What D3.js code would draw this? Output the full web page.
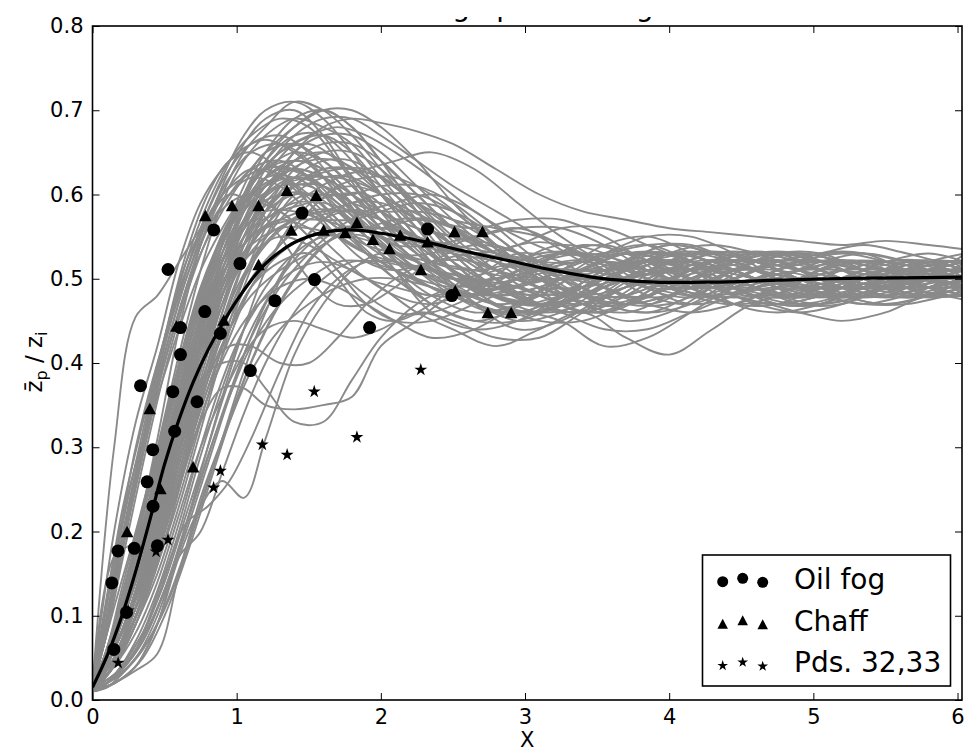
<!DOCTYPE html>
<html><head><meta charset="utf-8">
<script src="https://cdn.jsdelivr.net/npm/d3@7"></script>
<style>body{margin:0;background:#fff}svg{display:block}</style>
</head><body>
<svg id="c" width="964" height="751"></svg>
<script>
// ---------------- DATA ----------------
const titleText = "Average plume height";
const xLabel = "X";
// ensemble runs, set A (sampled at gridA)
const gridA = [0,0.15,0.3,0.45,0.6,0.75,0.9,1.05,1.2,1.4,1.6,1.8,2.0,2.25,2.5,2.8,3.1,3.4,3.7,4.0,4.3,4.6,4.9,5.2,5.5,5.8,6.05];
const ensembleA = [
 [0.016,0.30,0.455,0.48,0.52,0.56,0.60,0.62,0.63,0.61,0.58,0.55,0.52,0.50,0.49,0.50,0.52,0.53,0.52,0.50,0.49,0.50,0.52,0.52,0.51,0.49,0.50],
 [0.015,0.16,0.30,0.40,0.48,0.56,0.62,0.67,0.70,0.71,0.69,0.65,0.60,0.55,0.51,0.49,0.50,0.52,0.53,0.51,0.49,0.48,0.50,0.52,0.51,0.50,0.49],
 [0.012,0.13,0.26,0.37,0.46,0.54,0.60,0.65,0.68,0.71,0.70,0.67,0.63,0.58,0.53,0.49,0.47,0.49,0.52,0.53,0.52,0.50,0.49,0.50,0.51,0.52,0.51],
 [0.02,0.20,0.33,0.42,0.52,0.59,0.63,0.655,0.665,0.65,0.62,0.58,0.54,0.50,0.48,0.49,0.51,0.52,0.51,0.49,0.48,0.49,0.51,0.52,0.51,0.50,0.50],
 [0.015,0.11,0.20,0.30,0.41,0.51,0.59,0.64,0.67,0.69,0.68,0.66,0.62,0.57,0.52,0.48,0.47,0.49,0.52,0.54,0.53,0.51,0.49,0.49,0.50,0.52,0.52],
 [0.018,0.17,0.28,0.36,0.44,0.51,0.56,0.60,0.63,0.64,0.63,0.60,0.57,0.53,0.50,0.48,0.49,0.51,0.53,0.52,0.50,0.48,0.48,0.50,0.52,0.52,0.51],
 [0.015,0.17,0.19,0.28,0.40,0.49,0.55,0.59,0.61,0.62,0.61,0.58,0.55,0.52,0.50,0.50,0.51,0.51,0.50,0.49,0.49,0.50,0.51,0.51,0.50,0.49,0.48],
 [0.01,0.09,0.19,0.31,0.44,0.54,0.61,0.66,0.69,0.70,0.67,0.62,0.58,0.56,0.55,0.53,0.50,0.48,0.47,0.48,0.50,0.52,0.53,0.52,0.50,0.49,0.50],
 [0.015,0.14,0.27,0.37,0.46,0.53,0.58,0.62,0.65,0.68,0.70,0.70,0.68,0.64,0.59,0.54,0.50,0.48,0.48,0.50,0.52,0.53,0.52,0.50,0.49,0.49,0.50],
 [0.015,0.07,0.15,0.25,0.36,0.46,0.53,0.58,0.61,0.63,0.62,0.60,0.57,0.54,0.51,0.49,0.48,0.49,0.51,0.53,0.53,0.51,0.49,0.48,0.49,0.51,0.52],
 [0.012,0.06,0.13,0.22,0.33,0.43,0.51,0.57,0.61,0.64,0.65,0.63,0.60,0.56,0.52,0.48,0.46,0.47,0.50,0.53,0.54,0.53,0.51,0.49,0.48,0.49,0.50],
 [0.02,0.08,0.16,0.27,0.38,0.47,0.54,0.59,0.62,0.62,0.60,0.57,0.55,0.54,0.53,0.52,0.50,0.48,0.48,0.50,0.52,0.52,0.51,0.49,0.49,0.50,0.51],
 [0.015,0.06,0.12,0.20,0.30,0.40,0.48,0.54,0.58,0.61,0.61,0.59,0.56,0.52,0.49,0.47,0.48,0.51,0.53,0.52,0.50,0.48,0.49,0.51,0.52,0.51,0.50],
 [0.01,0.05,0.11,0.19,0.29,0.39,0.48,0.55,0.60,0.64,0.66,0.66,0.64,0.60,0.56,0.52,0.49,0.48,0.49,0.51,0.52,0.51,0.50,0.50,0.51,0.50,0.49],
 [0.015,0.07,0.14,0.23,0.33,0.42,0.49,0.54,0.57,0.59,0.59,0.58,0.57,0.55,0.52,0.49,0.47,0.48,0.51,0.53,0.52,0.50,0.48,0.48,0.50,0.52,0.51],
 [0.02,0.06,0.12,0.21,0.31,0.41,0.50,0.57,0.62,0.66,0.67,0.65,0.61,0.56,0.51,0.47,0.46,0.48,0.51,0.53,0.52,0.50,0.49,0.50,0.52,0.52,0.50],
 [0.015,0.05,0.10,0.17,0.26,0.36,0.45,0.52,0.57,0.61,0.63,0.63,0.61,0.58,0.54,0.50,0.47,0.46,0.48,0.51,0.53,0.53,0.51,0.49,0.49,0.50,0.51],
 [0.012,0.06,0.13,0.23,0.35,0.45,0.52,0.56,0.58,0.58,0.57,0.56,0.56,0.57,0.56,0.53,0.50,0.48,0.47,0.49,0.51,0.52,0.51,0.49,0.48,0.49,0.50],
 [0.015,0.05,0.11,0.19,0.28,0.37,0.46,0.54,0.60,0.65,0.67,0.67,0.65,0.61,0.57,0.53,0.51,0.51,0.52,0.52,0.50,0.48,0.48,0.50,0.52,0.53,0.52],
 [0.02,0.07,0.14,0.24,0.34,0.44,0.52,0.58,0.62,0.64,0.63,0.60,0.56,0.52,0.50,0.50,0.52,0.54,0.53,0.50,0.48,0.48,0.50,0.52,0.52,0.51,0.50],
 [0.01,0.04,0.09,0.16,0.25,0.35,0.44,0.52,0.58,0.63,0.65,0.65,0.63,0.59,0.55,0.51,0.48,0.47,0.49,0.52,0.53,0.52,0.50,0.49,0.49,0.51,0.52],
 [0.015,0.06,0.12,0.21,0.31,0.41,0.49,0.55,0.58,0.60,0.60,0.60,0.61,0.61,0.59,0.55,0.51,0.48,0.47,0.48,0.50,0.52,0.53,0.52,0.50,0.49,0.49],
 [0.015,0.05,0.10,0.18,0.28,0.38,0.47,0.54,0.59,0.62,0.62,0.60,0.58,0.56,0.55,0.54,0.52,0.49,0.47,0.47,0.49,0.51,0.52,0.52,0.51,0.49,0.48],
 [0.02,0.08,0.17,0.28,0.39,0.48,0.55,0.60,0.63,0.65,0.64,0.61,0.57,0.53,0.49,0.46,0.46,0.49,0.52,0.54,0.53,0.51,0.49,0.48,0.49,0.51,0.52],
 [0.012,0.05,0.11,0.20,0.31,0.42,0.51,0.58,0.63,0.67,0.69,0.69,0.67,0.64,0.61,0.58,0.55,0.52,0.50,0.49,0.49,0.50,0.51,0.52,0.52,0.51,0.50],
 [0.015,0.06,0.13,0.22,0.32,0.41,0.48,0.53,0.56,0.57,0.57,0.57,0.58,0.59,0.58,0.55,0.51,0.47,0.45,0.46,0.49,0.52,0.53,0.52,0.50,0.48,0.48],
 [0.015,0.04,0.09,0.16,0.24,0.33,0.42,0.50,0.56,0.61,0.63,0.63,0.62,0.59,0.56,0.53,0.51,0.50,0.50,0.51,0.52,0.52,0.51,0.50,0.49,0.50,0.51],
 [0.02,0.07,0.15,0.25,0.36,0.46,0.54,0.60,0.64,0.67,0.67,0.64,0.60,0.55,0.51,0.48,0.47,0.48,0.50,0.51,0.51,0.50,0.49,0.49,0.50,0.51,0.51],
 [0.01,0.05,0.10,0.18,0.27,0.36,0.44,0.50,0.54,0.57,0.58,0.58,0.57,0.55,0.53,0.51,0.50,0.50,0.51,0.52,0.51,0.49,0.47,0.47,0.49,0.51,0.52],
 [0.015,0.05,0.11,0.19,0.29,0.39,0.48,0.55,0.60,0.65,0.68,0.69,0.685,0.675,0.66,0.63,0.60,0.58,0.57,0.56,0.555,0.55,0.545,0.54,0.545,0.54,0.535],
 [0.015,0.07,0.15,0.26,0.37,0.47,0.55,0.60,0.63,0.63,0.61,0.58,0.54,0.51,0.50,0.51,0.53,0.53,0.51,0.49,0.48,0.49,0.51,0.51,0.50,0.49,0.50],
 [0.012,0.05,0.12,0.21,0.32,0.43,0.52,0.59,0.64,0.68,0.70,0.68,0.64,0.58,0.53,0.49,0.48,0.49,0.51,0.52,0.51,0.49,0.48,0.49,0.51,0.52,0.51],
 [0.02,0.06,0.13,0.22,0.32,0.42,0.50,0.56,0.60,0.62,0.61,0.59,0.58,0.58,0.57,0.54,0.50,0.47,0.46,0.48,0.51,0.53,0.53,0.51,0.49,0.48,0.49],
 [0.015,0.05,0.11,0.19,0.29,0.40,0.49,0.56,0.61,0.63,0.62,0.59,0.55,0.51,0.48,0.46,0.48,0.51,0.53,0.53,0.51,0.49,0.48,0.49,0.51,0.52,0.51],
 [0.01,0.04,0.10,0.18,0.27,0.37,0.46,0.53,0.58,0.62,0.64,0.64,0.62,0.59,0.57,0.56,0.55,0.53,0.50,0.48,0.48,0.50,0.52,0.53,0.52,0.50,0.49],
 [0.015,0.06,0.13,0.23,0.34,0.45,0.54,0.61,0.65,0.66,0.64,0.61,0.58,0.55,0.54,0.53,0.52,0.50,0.48,0.48,0.50,0.52,0.52,0.50,0.48,0.48,0.50],
 [0.018,0.07,0.14,0.22,0.31,0.40,0.47,0.52,0.55,0.57,0.58,0.59,0.60,0.60,0.58,0.54,0.50,0.47,0.47,0.49,0.52,0.53,0.52,0.50,0.48,0.49,0.50],
 [0.012,0.04,0.09,0.15,0.23,0.32,0.41,0.49,0.55,0.60,0.62,0.62,0.60,0.57,0.54,0.52,0.51,0.51,0.51,0.50,0.49,0.49,0.50,0.51,0.52,0.51,0.50],
 [0.015,0.05,0.12,0.22,0.33,0.44,0.53,0.60,0.65,0.69,0.70,0.68,0.64,0.60,0.56,0.53,0.52,0.52,0.53,0.53,0.51,0.49,0.48,0.49,0.50,0.52,0.53],
 [0.015,0.03,0.06,0.11,0.18,0.27,0.36,0.44,0.51,0.57,0.60,0.61,0.60,0.57,0.54,0.51,0.49,0.49,0.50,0.51,0.52,0.51,0.50,0.49,0.49,0.50,0.50],
 [0.012,0.025,0.05,0.09,0.15,0.23,0.31,0.39,0.46,0.53,0.57,0.59,0.59,0.57,0.54,0.50,0.47,0.46,0.48,0.51,0.53,0.52,0.50,0.48,0.48,0.50,0.51],
 [0.015,0.025,0.05,0.10,0.18,0.26,0.34,0.41,0.47,0.53,0.57,0.58,0.57,0.54,0.51,0.48,0.47,0.48,0.51,0.53,0.52,0.50,0.48,0.48,0.49,0.51,0.51],
 [0.01,0.02,0.035,0.055,0.15,0.24,0.31,0.38,0.44,0.50,0.54,0.56,0.56,0.55,0.53,0.50,0.48,0.46,0.47,0.50,0.52,0.52,0.50,0.48,0.47,0.48,0.50],
 [0.012,0.02,0.04,0.09,0.17,0.20,0.27,0.34,0.40,0.46,0.50,0.52,0.52,0.51,0.49,0.47,0.46,0.48,0.50,0.51,0.51,0.50,0.49,0.48,0.48,0.49,0.50],
 [0.01,0.02,0.04,0.09,0.17,0.23,0.26,0.24,0.31,0.41,0.47,0.51,0.53,0.52,0.50,0.47,0.45,0.45,0.47,0.50,0.52,0.52,0.50,0.48,0.47,0.48,0.49],
 [0.015,0.03,0.06,0.12,0.20,0.29,0.37,0.44,0.49,0.53,0.55,0.55,0.54,0.52,0.50,0.48,0.47,0.47,0.49,0.50,0.51,0.51,0.50,0.50,0.51,0.51,0.50],
 [0.015,0.05,0.11,0.20,0.30,0.38,0.40,0.40,0.37,0.33,0.33,0.38,0.43,0.47,0.49,0.50,0.51,0.52,0.51,0.49,0.48,0.49,0.50,0.51,0.51,0.50,0.49],
 [0.015,0.04,0.09,0.17,0.26,0.33,0.37,0.37,0.35,0.345,0.35,0.36,0.42,0.45,0.48,0.48,0.49,0.51,0.53,0.52,0.50,0.48,0.47,0.48,0.50,0.51,0.50],
 [0.015,0.04,0.08,0.14,0.22,0.30,0.36,0.41,0.44,0.45,0.44,0.43,0.44,0.46,0.45,0.43,0.43,0.46,0.49,0.50,0.49,0.47,0.46,0.47,0.49,0.50,0.49],
 [0.015,0.03,0.07,0.13,0.21,0.30,0.38,0.44,0.48,0.51,0.52,0.51,0.49,0.46,0.44,0.42,0.44,0.46,0.43,0.41,0.44,0.47,0.46,0.45,0.46,0.48,0.475]
];
// ensemble runs, set B (sampled at gridB)
const gridB = [0,0.1,0.2,0.35,0.5,0.65,0.8,0.95,1.1,1.3,1.5,1.7,1.9,2.1,2.35,2.65,2.95,3.25,3.55,3.85,4.15,4.45,4.75,5.05,5.35,5.65,5.95,6.05];
const ensembleB = [
 [0.015,0.08,0.17,0.29,0.40,0.49,0.56,0.60,0.63,0.64,0.62,0.58,0.55,0.53,0.53,0.55,0.56,0.54,0.51,0.49,0.49,0.51,0.53,0.52,0.50,0.49,0.50,0.50],
 [0.012,0.05,0.10,0.19,0.29,0.39,0.47,0.52,0.55,0.57,0.58,0.56,0.53,0.50,0.47,0.45,0.45,0.47,0.50,0.52,0.51,0.48,0.47,0.48,0.50,0.51,0.50,0.50],
 [0.015,0.03,0.06,0.12,0.20,0.29,0.37,0.44,0.49,0.53,0.55,0.55,0.53,0.51,0.48,0.46,0.47,0.50,0.53,0.54,0.52,0.49,0.47,0.47,0.49,0.51,0.52,0.52],
 [0.015,0.05,0.11,0.20,0.30,0.40,0.48,0.54,0.58,0.61,0.62,0.62,0.61,0.59,0.57,0.56,0.57,0.57,0.55,0.52,0.50,0.50,0.52,0.53,0.53,0.52,0.51,0.51],
 [0.02,0.09,0.18,0.30,0.41,0.50,0.56,0.59,0.60,0.58,0.55,0.51,0.48,0.46,0.46,0.48,0.51,0.53,0.52,0.49,0.47,0.48,0.51,0.52,0.51,0.49,0.48,0.49],
 [0.01,0.02,0.035,0.07,0.13,0.21,0.29,0.36,0.42,0.47,0.50,0.52,0.52,0.51,0.49,0.47,0.45,0.46,0.49,0.51,0.50,0.48,0.47,0.48,0.50,0.51,0.50,0.50],
 [0.015,0.06,0.12,0.22,0.32,0.42,0.50,0.56,0.61,0.65,0.66,0.64,0.60,0.56,0.52,0.49,0.49,0.51,0.54,0.55,0.53,0.50,0.48,0.48,0.50,0.52,0.52,0.51],
 [0.012,0.03,0.07,0.13,0.21,0.30,0.38,0.44,0.48,0.51,0.53,0.55,0.56,0.57,0.57,0.55,0.52,0.49,0.47,0.46,0.48,0.51,0.53,0.53,0.51,0.49,0.48,0.48],
 [0.015,0.10,0.19,0.31,0.42,0.51,0.58,0.63,0.66,0.67,0.65,0.61,0.56,0.52,0.49,0.48,0.50,0.53,0.54,0.52,0.49,0.47,0.48,0.51,0.52,0.51,0.50,0.50],
 [0.015,0.05,0.10,0.18,0.28,0.38,0.46,0.52,0.56,0.58,0.59,0.60,0.60,0.57,0.52,0.47,0.44,0.45,0.48,0.51,0.52,0.51,0.49,0.48,0.49,0.50,0.51,0.51],
 [0.015,0.03,0.06,0.12,0.20,0.28,0.36,0.42,0.46,0.49,0.50,0.49,0.47,0.45,0.43,0.44,0.47,0.50,0.52,0.51,0.49,0.47,0.47,0.49,0.51,0.51,0.50,0.49],
 [0.012,0.05,0.11,0.21,0.31,0.41,0.49,0.55,0.60,0.63,0.62,0.59,0.56,0.54,0.54,0.55,0.56,0.56,0.54,0.51,0.49,0.49,0.50,0.52,0.53,0.52,0.50,0.50],
 [0.02,0.08,0.16,0.28,0.39,0.48,0.55,0.60,0.62,0.61,0.58,0.55,0.53,0.52,0.51,0.50,0.49,0.48,0.49,0.51,0.53,0.53,0.51,0.49,0.48,0.49,0.51,0.51],
 [0.01,0.02,0.04,0.08,0.14,0.22,0.30,0.38,0.44,0.50,0.54,0.56,0.56,0.54,0.51,0.48,0.46,0.47,0.50,0.52,0.52,0.50,0.48,0.47,0.48,0.50,0.52,0.52],
 [0.015,0.06,0.12,0.21,0.30,0.39,0.47,0.53,0.58,0.62,0.64,0.64,0.62,0.58,0.53,0.49,0.47,0.48,0.50,0.52,0.53,0.52,0.50,0.49,0.49,0.51,0.52,0.52],
 [0.015,0.04,0.08,0.15,0.24,0.33,0.42,0.49,0.54,0.58,0.60,0.58,0.55,0.51,0.47,0.45,0.46,0.45,0.42,0.43,0.46,0.49,0.50,0.48,0.47,0.48,0.49,0.49],
 [0.015,0.09,0.18,0.31,0.43,0.53,0.60,0.64,0.65,0.63,0.59,0.55,0.52,0.51,0.52,0.53,0.52,0.50,0.48,0.48,0.50,0.52,0.52,0.51,0.49,0.49,0.51,0.51],
 [0.012,0.05,0.10,0.19,0.28,0.37,0.44,0.50,0.53,0.55,0.54,0.52,0.50,0.49,0.48,0.48,0.50,0.52,0.52,0.50,0.48,0.48,0.50,0.52,0.52,0.50,0.48,0.48],
 [0.015,0.03,0.06,0.12,0.19,0.28,0.36,0.43,0.49,0.54,0.58,0.61,0.62,0.62,0.60,0.56,0.51,0.47,0.46,0.48,0.51,0.53,0.53,0.51,0.49,0.49,0.50,0.50],
 [0.02,0.10,0.20,0.32,0.43,0.52,0.57,0.60,0.59,0.55,0.50,0.47,0.47,0.49,0.52,0.54,0.53,0.50,0.48,0.48,0.50,0.52,0.52,0.50,0.48,0.48,0.50,0.50],
 [0.015,0.06,0.12,0.22,0.32,0.42,0.50,0.56,0.61,0.65,0.67,0.68,0.67,0.65,0.62,0.58,0.55,0.53,0.53,0.54,0.54,0.52,0.50,0.49,0.50,0.51,0.52,0.52],
 [0.01,0.015,0.03,0.06,0.11,0.18,0.26,0.33,0.39,0.44,0.47,0.49,0.50,0.50,0.49,0.47,0.46,0.48,0.51,0.52,0.50,0.47,0.46,0.47,0.49,0.50,0.49,0.48],
 [0.015,0.06,0.12,0.22,0.33,0.43,0.51,0.56,0.59,0.61,0.61,0.59,0.56,0.53,0.50,0.49,0.50,0.51,0.50,0.49,0.48,0.49,0.51,0.53,0.53,0.51,0.49,0.49],
 [0.012,0.04,0.08,0.14,0.23,0.32,0.40,0.47,0.52,0.56,0.58,0.58,0.55,0.51,0.46,0.44,0.45,0.48,0.51,0.53,0.52,0.49,0.47,0.47,0.49,0.51,0.51,0.51],
 [0.015,0.08,0.17,0.30,0.41,0.50,0.57,0.62,0.65,0.66,0.64,0.60,0.57,0.55,0.54,0.53,0.52,0.51,0.51,0.52,0.52,0.51,0.49,0.48,0.49,0.51,0.52,0.52],
 [0.015,0.05,0.10,0.18,0.27,0.37,0.45,0.51,0.55,0.57,0.56,0.53,0.50,0.48,0.47,0.49,0.52,0.54,0.53,0.50,0.48,0.47,0.49,0.51,0.52,0.51,0.49,0.49],
 [0.015,0.03,0.06,0.12,0.20,0.29,0.37,0.44,0.49,0.52,0.53,0.50,0.46,0.45,0.47,0.51,0.54,0.54,0.51,0.48,0.47,0.49,0.51,0.52,0.51,0.49,0.48,0.49],
 [0.012,0.05,0.10,0.19,0.29,0.39,0.47,0.53,0.57,0.60,0.62,0.63,0.63,0.61,0.57,0.52,0.48,0.46,0.47,0.50,0.52,0.52,0.50,0.48,0.48,0.50,0.51,0.51],
 [0.01,0.015,0.025,0.05,0.10,0.17,0.25,0.33,0.40,0.47,0.52,0.55,0.55,0.53,0.50,0.47,0.46,0.48,0.51,0.52,0.51,0.49,0.48,0.49,0.51,0.52,0.51,0.50],
 [0.02,0.12,0.22,0.33,0.43,0.51,0.57,0.61,0.63,0.62,0.59,0.56,0.54,0.53,0.52,0.51,0.50,0.50,0.51,0.52,0.52,0.50,0.48,0.48,0.50,0.52,0.51,0.50],
 [0.015,0.06,0.12,0.22,0.33,0.43,0.51,0.56,0.59,0.58,0.55,0.51,0.47,0.45,0.45,0.47,0.49,0.50,0.49,0.47,0.46,0.47,0.49,0.50,0.49,0.48,0.48,0.49],
 [0.012,0.03,0.06,0.12,0.20,0.29,0.38,0.46,0.52,0.57,0.60,0.62,0.63,0.64,0.65,0.63,0.59,0.55,0.52,0.51,0.51,0.52,0.53,0.52,0.51,0.50,0.51,0.52],
 [0.015,0.05,0.11,0.20,0.30,0.40,0.48,0.54,0.58,0.60,0.60,0.57,0.53,0.50,0.48,0.50,0.53,0.52,0.49,0.47,0.49,0.52,0.53,0.51,0.49,0.50,0.52,0.52],
 [0.01,0.02,0.04,0.08,0.15,0.21,0.23,0.26,0.31,0.39,0.46,0.50,0.52,0.52,0.51,0.49,0.47,0.47,0.49,0.51,0.51,0.49,0.47,0.47,0.48,0.50,0.50,0.50],
 [0.015,0.04,0.09,0.17,0.26,0.34,0.39,0.42,0.42,0.40,0.40,0.43,0.47,0.50,0.52,0.52,0.50,0.48,0.47,0.48,0.50,0.51,0.51,0.50,0.49,0.49,0.50,0.50],
 [0.015,0.09,0.18,0.30,0.42,0.52,0.59,0.64,0.67,0.69,0.68,0.64,0.59,0.55,0.52,0.51,0.52,0.53,0.52,0.50,0.49,0.50,0.52,0.52,0.50,0.48,0.49,0.50],
 [0.015,0.05,0.10,0.19,0.29,0.38,0.46,0.51,0.54,0.56,0.56,0.55,0.53,0.51,0.49,0.48,0.49,0.51,0.53,0.55,0.55,0.53,0.50,0.48,0.48,0.50,0.52,0.52],
 [0.01,0.02,0.035,0.07,0.13,0.20,0.28,0.36,0.43,0.49,0.53,0.56,0.58,0.59,0.60,0.58,0.54,0.50,0.47,0.46,0.47,0.50,0.52,0.52,0.50,0.48,0.48,0.49],
 [0.015,0.06,0.13,0.23,0.33,0.43,0.51,0.57,0.60,0.62,0.60,0.57,0.54,0.52,0.51,0.50,0.48,0.46,0.44,0.44,0.46,0.48,0.49,0.48,0.47,0.47,0.48,0.48],
 [0.015,0.03,0.07,0.13,0.22,0.31,0.39,0.45,0.50,0.54,0.57,0.58,0.58,0.56,0.54,0.53,0.54,0.56,0.56,0.54,0.52,0.51,0.52,0.53,0.54,0.53,0.52,0.53]
];
// ensemble mean (black line)
const meanX = [0,0.1,0.2,0.3,0.4,0.5,0.6,0.7,0.8,0.9,1.0,1.1,1.2,1.3,1.4,1.6,1.8,2.0,2.3,2.6,2.9,3.2,3.5,3.9,4.3,4.7,5.1,5.6,6.05];
const meanY = [0.015,0.052,0.098,0.153,0.215,0.28,0.333,0.378,0.415,0.446,0.474,0.498,0.518,0.532,0.543,0.555,0.558,0.554,0.544,0.532,0.521,0.51,0.501,0.496,0.496,0.498,0.5,0.501,0.502];
// observations
const oilFog = [[0.148,0.060],[0.134,0.139],[0.177,0.177],[0.236,0.104],[0.290,0.180],[0.333,0.373],[0.379,0.259],[0.418,0.297],[0.420,0.230],[0.450,0.183],[0.524,0.511],[0.557,0.366],[0.570,0.319],[0.610,0.442],[0.610,0.410],[0.725,0.354],[0.779,0.461],[0.841,0.558],[0.887,0.435],[1.023,0.518],[1.095,0.391],[1.265,0.474],[1.453,0.578],[1.540,0.499],[1.922,0.442],[2.324,0.559],[2.492,0.480]];
const chaff = [[0.240,0.200],[0.397,0.346],[0.471,0.251],[0.582,0.444],[0.698,0.277],[0.783,0.575],[0.910,0.451],[0.968,0.587],[1.152,0.587],[1.152,0.517],[1.349,0.605],[1.379,0.558],[1.552,0.599],[1.603,0.558],[1.753,0.555],[1.834,0.567],[1.945,0.547],[2.060,0.536],[2.134,0.552],[2.278,0.511],[2.324,0.544],[2.511,0.556],[2.516,0.486],[2.705,0.556],[2.742,0.460],[2.904,0.460]];
const pds = [[0.178,0.044],[0.247,0.106],[0.441,0.176],[0.524,0.190],[0.840,0.252],[0.887,0.272],[1.178,0.303],[1.350,0.291],[1.538,0.366],[1.834,0.312],[2.277,0.392]];
const xTicks = [0,1,2,3,4,5,6];
const yTicks = [0,0.1,0.2,0.3,0.4,0.5,0.6,0.7,0.8];
const legendLabels = ["Oil fog","Chaff","Pds. 32,33"];

// ---------------- DRAWING ----------------
const FONT = "DejaVu Sans, Liberation Sans, sans-serif";
const svg = d3.select("#c");
const x = d3.scaleLinear().domain([0, 6.031]).range([92.5, 962]);
const y = d3.scaleLinear().domain([0, 0.8]).range([700, 26]);
const [x0, x1] = x.range(), [y0, y1] = y.range();

const defs = svg.append("defs");
defs.append("clipPath").attr("id","plot").append("rect")
  .attr("x", x0).attr("y", y1).attr("width", x1-x0).attr("height", y0-y1);
defs.append("clipPath").attr("id","titleclip").append("rect")
  .attr("x", 0).attr("y", 17).attr("width", 964).attr("height", y1-17);

// title (only its lowest part is visible in the reference)
svg.append("text").attr("clip-path","url(#titleclip)")
  .attr("x", (x0+x1)/2).attr("y", 15.5).attr("text-anchor","middle")
  .style("font-family", FONT).style("font-size","28px").text(titleText);

const plot = svg.append("g").attr("clip-path","url(#plot)");
const line = d3.line().curve(d3.curveCatmullRom.alpha(0.5));
const runs = ensembleA.map(ys => ys.map((v,i) => [gridA[i], v]))
  .concat(ensembleB.map(ys => ys.map((v,i) => [gridB[i], v])));

plot.append("g").selectAll("path").data(runs).join("path")
  .attr("d", pts => line(pts.map(p => [x(p[0]), y(p[1])])))
  .attr("fill","none").attr("stroke","#8a8a8a").attr("stroke-width",1.9);

plot.append("path")
  .attr("d", line(meanX.map((v,i) => [x(v), y(meanY[i])])))
  .attr("fill","none").attr("stroke","#000").attr("stroke-width",3.2);

function triPath(w,h){ return `M0,${-h/2}L${w/2},${h/2}L${-w/2},${h/2}Z`; }
function starPath(R){ const r=R*0.382; let p=""; for(let k=0;k<10;k++){ const a=-Math.PI/2+k*Math.PI/5, rr=k%2?r:R; p+=(k?"L":"M")+(rr*Math.cos(a)).toFixed(2)+","+(rr*Math.sin(a)).toFixed(2);} return p+"Z"; }

const mk = plot.append("g");
mk.selectAll(".c").data(oilFog).join("circle").attr("class","c")
  .attr("cx", d=>x(d[0])).attr("cy", d=>y(d[1])).attr("r",6.5).attr("fill","#000");
mk.selectAll(".t").data(chaff).join("path").attr("class","t")
  .attr("transform", d=>`translate(${x(d[0])},${y(d[1])})`).attr("d", triPath(12.5,11.5)).attr("fill","#000");
mk.selectAll(".s").data(pds).join("path").attr("class","s")
  .attr("transform", d=>`translate(${x(d[0])},${y(d[1])})`).attr("d", starPath(6.8)).attr("fill","#000");

// axes: ticks inside on all four sides
function styleAxis(g){ g.select(".domain").remove(); g.selectAll("line").attr("stroke","#000").attr("stroke-width",1);
  g.selectAll("text").style("font-family",FONT).style("font-size","21px").attr("fill","#000"); }
svg.append("g").attr("transform",`translate(0,${y0})`)
  .call(d3.axisBottom(x).tickValues(xTicks).tickFormat(d3.format("d")).tickSizeInner(-7).tickSizeOuter(0).tickPadding(9)).call(styleAxis);
svg.append("g").attr("transform",`translate(0,${y1})`)
  .call(d3.axisTop(x).tickValues(xTicks).tickFormat("").tickSizeInner(-7).tickSizeOuter(0)).call(styleAxis);
svg.append("g").attr("transform",`translate(${x0},0)`)
  .call(d3.axisLeft(y).tickValues(yTicks).tickFormat(d3.format(".1f")).tickSizeInner(-7).tickSizeOuter(0).tickPadding(9)).call(styleAxis);
svg.append("g").attr("transform",`translate(${x1},0)`)
  .call(d3.axisRight(y).tickValues(yTicks).tickFormat("").tickSizeInner(-7).tickSizeOuter(0)).call(styleAxis);
svg.append("rect").attr("x",x0).attr("y",y1).attr("width",x1-x0).attr("height",y0-y1)
  .attr("fill","none").attr("stroke","#000").attr("stroke-width",1.6);

// axis labels
svg.append("text").attr("x",(x0+x1)/2).attr("y",747).attr("text-anchor","middle")
  .style("font-family",FONT).style("font-size","21px").text(xLabel);
const yl = svg.append("text").attr("transform","translate(42,362) rotate(-90)").attr("text-anchor","middle")
  .style("font-family",FONT).style("font-size","23px");
yl.append("tspan").text("z\u0304");
yl.append("tspan").attr("dy",5).style("font-size","16px").text("p");
yl.append("tspan").attr("dy",-5).text(" / z");
yl.append("tspan").attr("dy",5).style("font-size","16px").text("i");

// legend
const lg = svg.append("g");
lg.append("rect").attr("x",702.5).attr("y",555).attr("width",248).attr("height",131)
  .attr("fill","#fff").attr("stroke","#000").attr("stroke-width",1.6);
const mX = [722.7,742.7,762.7], rowY = [581,622,664], offY = [0.7,-2.7,1.3];
legendLabels.forEach((lab,r) => {
  mX.forEach((mx,k) => {
    const cy = rowY[r]+offY[k];
    if (r===0) lg.append("circle").attr("cx",mx).attr("cy",cy).attr("r",5.5).attr("fill","#000");
    else if (r===1) lg.append("path").attr("transform",`translate(${mx},${cy+1})`).attr("d",triPath(10.5,10)).attr("fill","#000");
    else lg.append("path").attr("transform",`translate(${mx},${cy+1})`).attr("d",starPath(5.6)).attr("fill","#000");
  });
  lg.append("text").attr("x",794).attr("y",[589.3,630.5,672][r])
    .style("font-family",FONT).style("font-size","28px").text(lab);
});
</script>
</body></html>
